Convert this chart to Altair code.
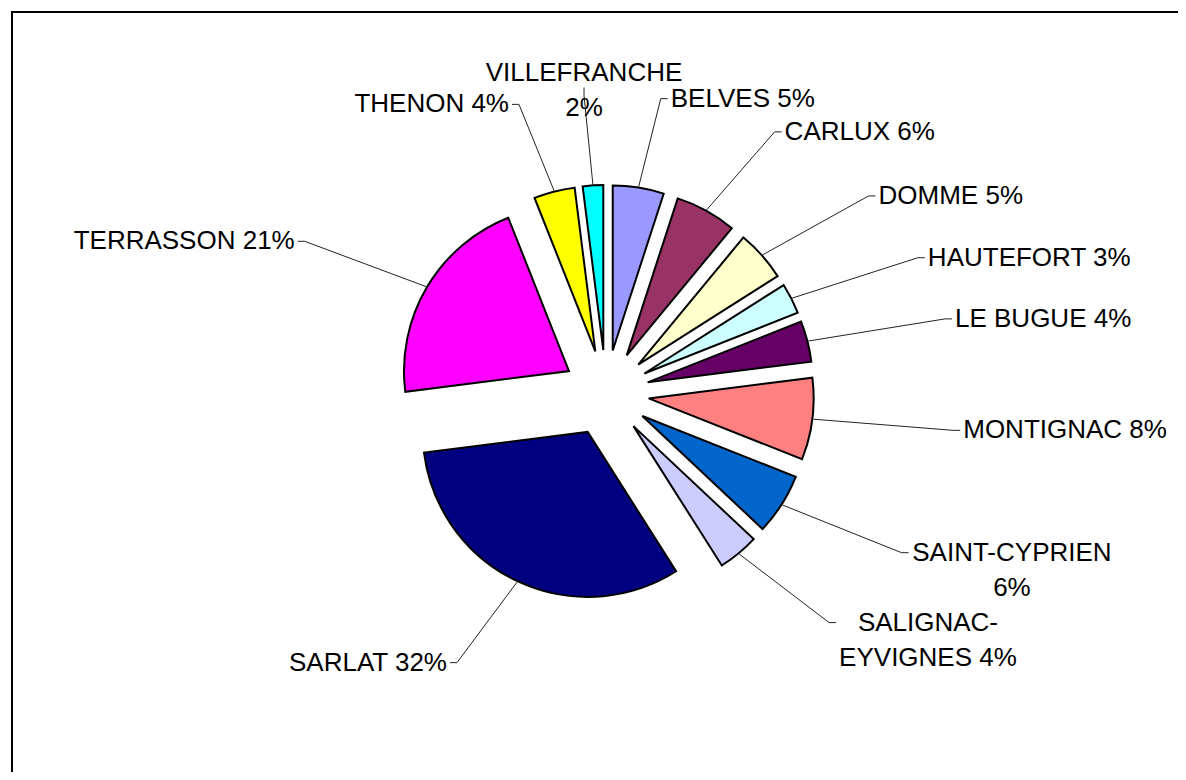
import altair as alt
import pandas as pd

# ---- data ----
communes = ["BELVES", "CARLUX", "DOMME", "HAUTEFORT", "LE BUGUE", "MONTIGNAC",
            "SAINT-CYPRIEN", "SALIGNAC-EYVIGNES", "SARLAT", "TERRASSON",
            "THENON", "VILLEFRANCHE"]
shares = [5, 6, 5, 3, 4, 8, 6, 4, 32, 21, 4, 2]
colors = ["#9999FF", "#993366", "#FFFFCC", "#CCFFFF", "#660066", "#FF8080",
          "#0066CC", "#CCCCFF", "#000080", "#FF00FF", "#FFFF00", "#00FFFF"]

FONT = "Liberation Sans"
FS = 26

# Arial / Liberation Sans advance widths (per 1000 em) for the label glyphs
_ADV = {"A": 667, "B": 667, "C": 722, "D": 722, "E": 667, "F": 611, "G": 778,
        "H": 722, "I": 278, "J": 500, "K": 667, "L": 556, "M": 833, "N": 722,
        "O": 778, "P": 667, "Q": 778, "R": 722, "S": 667, "T": 611, "U": 722,
        "V": 667, "W": 944, "X": 667, "Y": 667, "Z": 611, " ": 278, "%": 889,
        "-": 333}


def text_width(s):
    return sum(_ADV.get(ch, 556) for ch in s) * FS / 1000.0


def make_label(name, pct):
    text = f"{name} {pct}%"
    if len(text) <= 14:
        return text
    if len(name) > 13 and "-" in name:
        head, tail = name.split("-", 1)
        return f"{head}-\n{tail} {pct}%"
    return f"{name}\n{pct}%"


labels = [make_label(n, p) for n, p in zip(communes, shares)]

df = pd.DataFrame({
    "commune": communes, "share": shares, "label": labels,
    "order": list(range(len(communes))),
    "multi": ["\n" in s for s in labels],
    "bw": [max(text_width(line) for line in s.split("\n")) for s in labels],
})

# ---- layout constants (pixels inside the chart) ----
W, H = 1170, 764
CX, CY = 598, 385      # pie centre
R = 165                # pie radius
EXPL = 43              # explosion distance
RX, RY = 350, 298      # label ellipse

base = (
    alt.Chart(df)
    .transform_window(cum="sum(share)", sort=[alt.SortField("order")], frame=[None, 0])
    .transform_joinaggregate(total="sum(share)")
    .transform_calculate(
        t1="2*PI*datum.cum/datum.total",
        t0="2*PI*(datum.cum-datum.share)/datum.total",
        tm="PI*(2*datum.cum-datum.share)/datum.total",
        cx=f"{CX}+{EXPL}*sin(datum.tm)",
        cy=f"{CY}-{EXPL}*cos(datum.tm)",
        px=f"datum.cx+{R + 1}*sin(datum.tm)",
        py=f"datum.cy-{R + 1}*cos(datum.tm)",
        lx=f"{CX}+{RX}*sin(datum.tm)",
        ly=f"{CY}-{RY}*cos(datum.tm)",
        side="abs(sin(datum.tm))<0.1 && cos(datum.tm)>0 ? 'top' : (sin(datum.tm)>0 ? 'right' : 'left')",
        ex="datum.lx + (datum.side=='right' ? 7 : (datum.side=='left' ? -7 : 0))",
        ey="datum.ly + (datum.side=='top' ? -8 : 0)",
    )
)

arcs = base.mark_arc(radius=R, stroke="black", strokeWidth=2).encode(
    theta=alt.Theta("t0:Q", scale=None),
    theta2="t1:Q",
    x=alt.X("cx:Q", scale=None),
    y=alt.Y("cy:Q", scale=None),
    color=alt.Color("commune:N", scale=alt.Scale(domain=communes, range=colors), legend=None),
)

leader1 = base.mark_rule(color="#222222", strokeWidth=1).encode(
    x=alt.X("px:Q", scale=None), y=alt.Y("py:Q", scale=None),
    x2="lx:Q", y2="ly:Q",
)
leader2 = base.mark_rule(color="#222222", strokeWidth=1).encode(
    x=alt.X("lx:Q", scale=None), y=alt.Y("ly:Q", scale=None),
    x2="ex:Q", y2="ey:Q",
)

txt_kw = dict(font=FONT, fontSize=FS, lineBreak="\n", lineHeight=35, color="black")

txt_right = base.transform_filter("datum.side=='right' && !datum.multi").transform_calculate(
    tx="datum.ex+3").mark_text(align="left", baseline="middle", **txt_kw).encode(
    x=alt.X("tx:Q", scale=None), y=alt.Y("ey:Q", scale=None), text="label:N")

txt_left = base.transform_filter("datum.side=='left' && !datum.multi").transform_calculate(
    tx="datum.ex-3").mark_text(align="right", baseline="middle", **txt_kw).encode(
    x=alt.X("tx:Q", scale=None), y=alt.Y("ey:Q", scale=None), text="label:N")

txt_block = base.transform_filter("datum.side!='top' && datum.multi").transform_calculate(
    tx="datum.side=='right' ? datum.ex+3+datum.bw/2 : datum.ex-3-datum.bw/2").mark_text(
    align="center", baseline="middle", **txt_kw).encode(
    x=alt.X("tx:Q", scale=None), y=alt.Y("ey:Q", scale=None), text="label:N")

txt_top = base.transform_filter("datum.side=='top'").transform_calculate(
    ty="datum.ey-2").mark_text(align="center", baseline="bottom", **txt_kw).encode(
    x=alt.X("ex:Q", scale=None), y=alt.Y("ty:Q", scale=None), text="label:N")

# chart frame: only the left and top edges fall inside the window
frame_src = alt.Chart(pd.DataFrame({"f": [0]}))
frame_left = frame_src.mark_rule(color="black", strokeWidth=2).encode(
    x=alt.value(4), y=alt.value(3), y2=alt.value(H))
frame_top = frame_src.mark_rule(color="black", strokeWidth=2).encode(
    x=alt.value(3), x2=alt.value(W), y=alt.value(4))

chart = alt.layer(frame_left, frame_top, leader1, leader2, arcs,
                  txt_right, txt_left, txt_block, txt_top).properties(
    width=W, height=H, padding=0, autosize="none"
).configure_view(strokeOpacity=0)

chart.save("out.html", embed_options={"renderer": "svg", "actions": False})
